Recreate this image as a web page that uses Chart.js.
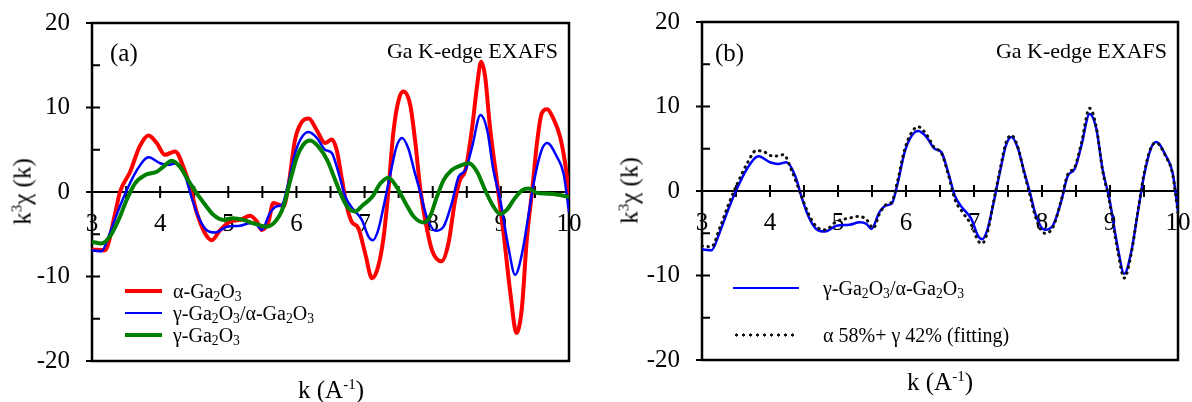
<!DOCTYPE html>
<html lang="en">
<head>
<meta charset="UTF-8">
<title>Ga K-edge EXAFS</title>
<script src="https://cdn.jsdelivr.net/npm/chart.js"></script>
<style>
  body { margin: 0; width: 1192px; height: 402px; background: #fff; overflow: hidden; position: relative;
         font-family: "Liberation Serif", "Times New Roman", serif; color: #000; }
  canvas { position: absolute; top: 0; }
  .t { position: absolute; white-space: nowrap; line-height: 1; }
  .sub { font-size: 0.68em; vertical-align: -0.25em; line-height: 0; }
  .sup { font-size: 0.6em; vertical-align: 0.6em; line-height: 0; }
  .ytitle { width: 140px; text-align: center; font-size: 25px; transform: rotate(-90deg); }
  .xtitle { width: 200px; text-align: center; font-size: 25px; }
  .lg { position: absolute; height: 0; }
  .solid { border-top-style: solid; }
  .dots { height: 4px; background: radial-gradient(circle, #111 1.4px, transparent 1.8px) 0 0 / 7px 4px repeat-x; }
</style>
</head>
<body>
<canvas id="chartA" width="596" height="402" style="left:0"></canvas>
<canvas id="chartB" width="596" height="402" style="left:596px"></canvas>

<!-- panel (a) text -->
<div class="t" style="left:110px; top:40px; font-size:25px">(a)</div>
<div class="t" style="right:634px; top:40px; font-size:22px">Ga K-edge EXAFS</div>
<div class="t ytitle" style="left:-48px; top:179px">k<span class="sup">3</span>χ (k)</div>
<div class="t xtitle" style="left:231px; top:377px">k (A<span class="sup">-1</span>)</div>
<div class="lg solid" style="left:125px; width:37px; top:289px; border-top-width:4px; border-color:#ff0000"></div>
<div class="lg solid" style="left:125px; width:37px; top:312px; border-top-width:2.5px; border-color:#0000ff"></div>
<div class="lg solid" style="left:125px; width:37px; top:333px; border-top-width:4px; border-color:#008000"></div>
<div class="t" style="left:173px; top:281px; font-size:20px">α-Ga<span class="sub">2</span>O<span class="sub">3</span></div>
<div class="t" style="left:173px; top:303px; font-size:20px">γ-Ga<span class="sub">2</span>O<span class="sub">3</span>/α-Ga<span class="sub">2</span>O<span class="sub">3</span></div>
<div class="t" style="left:173px; top:325px; font-size:20px">γ-Ga<span class="sub">2</span>O<span class="sub">3</span></div>

<!-- panel (b) text -->
<div class="t" style="left:715px; top:40px; font-size:25px">(b)</div>
<div class="t" style="right:25px; top:40px; font-size:22px">Ga K-edge EXAFS</div>
<div class="t ytitle" style="left:559px; top:178px">k<span class="sup">3</span>χ (k)</div>
<div class="t xtitle" style="left:840px; top:369px">k (A<span class="sup">-1</span>)</div>
<div class="lg solid" style="left:733px; width:66px; top:287px; border-top-width:2.5px; border-color:#0000ff"></div>
<div class="lg dots" style="left:733px; width:62px; top:333px"></div>
<div class="t" style="left:823px; top:278px; font-size:20px">γ-Ga<span class="sub">2</span>O<span class="sub">3</span>/α-Ga<span class="sub">2</span>O<span class="sub">3</span></div>
<div class="t" style="left:823px; top:325px; font-size:20px">α 58%+ γ 42% (fitting)</div>

<script>
// k values (A^-1) and k^3 chi(k)
const kAlpha = [3.0,3.19,3.34,3.41,3.56,3.70,3.83,3.95,4.07,4.22,4.34,4.44,4.54,4.66,4.76,4.88,5.03,5.17,5.32,5.42,5.49,5.59,5.66,5.74,5.81,5.88,5.98,6.08,6.18,6.30,6.42,6.52,6.59,6.67,6.74,6.81,6.91,7.01,7.11,7.20,7.28,7.35,7.42,7.50,7.57,7.67,7.74,7.82,7.89,7.99,8.13,8.23,8.33,8.40,8.48,8.58,8.65,8.71,8.77,8.84,8.94,9.04,9.14,9.23,9.31,9.38,9.46,9.53,9.60,9.68,9.77,9.87,9.95,10.0];
const alphaGa2O3 = [-6.8,-6.9,-2.5,0,2.4,5.4,6.7,5.8,4.4,4.8,3.0,0.6,-2.5,-4.9,-5.7,-4.5,-3.5,-3.3,-2.8,-3.5,-4.5,-3.5,-1.3,-1.5,-1.7,0.6,6.2,8.3,8.7,7.3,5.8,6.2,5.0,1.4,-1.7,-3.5,-4.3,-7.3,-10.2,-8.8,-5.3,0.2,6.9,10.9,11.9,10.3,6.2,0.2,-3.3,-6.9,-8.2,-6.1,-0.9,1.4,2.6,7.7,12.5,15.4,13.6,7.7,1.4,-4.9,-12.0,-16.7,-13.6,-5.7,0.2,5.8,9.3,9.8,8.7,6.5,3.0,-0.4];

const kMix = [3.0,3.14,3.26,3.39,3.51,3.66,3.83,4.0,4.12,4.24,4.37,4.46,4.56,4.68,4.81,4.98,5.17,5.32,5.42,5.49,5.61,5.71,5.79,5.88,5.98,6.08,6.18,6.30,6.42,6.52,6.62,6.72,6.84,6.96,7.06,7.12,7.20,7.28,7.38,7.47,7.55,7.64,7.74,7.82,7.91,8.04,8.16,8.28,8.38,8.48,8.58,8.70,8.80,8.89,8.99,9.11,9.21,9.31,9.41,9.50,9.60,9.68,9.82,9.92,10.0];
const mixGa2O3 = [-6.9,-7.0,-4.9,-2.1,0.2,2.6,4.1,3.4,3.2,3.4,1.8,-0.6,-2.9,-4.5,-4.8,-4.1,-4.0,-3.7,-3.9,-4.5,-2.5,-1.7,-1.5,1.0,4.6,6.5,7.1,6.4,5.0,4.6,2.2,-0.6,-2.1,-3.3,-5.3,-5.7,-4.5,-1.7,2.2,5.4,6.4,5.2,2.2,-0.1,-2.9,-4.6,-4.1,-1.3,1.8,2.6,5.4,9.1,7.3,2.6,-0.9,-6.5,-9.8,-7.3,-2.5,1.8,5.0,5.8,4.2,2.2,-2.4];

const kGamma = [3.0,3.14,3.26,3.39,3.51,3.63,3.78,3.95,4.05,4.17,4.29,4.41,4.54,4.66,4.78,4.93,5.07,5.22,5.37,5.56,5.69,5.81,5.91,6.01,6.10,6.20,6.32,6.45,6.57,6.67,6.76,6.86,6.98,7.11,7.23,7.35,7.47,7.60,7.72,7.87,7.96,8.06,8.16,8.28,8.40,8.53,8.65,8.77,8.89,8.99,9.09,9.19,9.31,9.41,9.53,9.68,9.82,10.0];
const gammaGa2O3 = [-5.9,-6.1,-5.3,-3.3,-0.9,1.0,2.0,2.4,3.0,3.7,3.0,1.4,-0.2,-1.5,-2.7,-3.3,-3.1,-3.3,-3.7,-4.1,-3.5,-1.7,1.4,4.2,5.6,6.1,5.4,3.8,1.4,-0.6,-1.9,-2.3,-1.5,-0.6,1.0,1.7,0.6,-1.3,-2.9,-3.6,-2.9,-0.6,1.4,2.6,3.1,3.4,2.4,0.2,-1.7,-2.6,-2.1,-0.9,0.2,0.4,-0.1,-0.2,-0.3,-0.6];

const kFit = [3.0,3.14,3.26,3.39,3.51,3.66,3.80,3.92,4.05,4.20,4.32,4.44,4.56,4.68,4.81,4.98,5.17,5.32,5.42,5.52,5.61,5.71,5.79,5.88,5.98,6.08,6.18,6.30,6.42,6.52,6.62,6.72,6.84,6.96,7.06,7.12,7.20,7.28,7.38,7.47,7.55,7.64,7.74,7.82,7.91,8.04,8.16,8.28,8.38,8.48,8.58,8.70,8.80,8.89,8.99,9.11,9.21,9.31,9.41,9.50,9.60,9.68,9.82,9.92,10.0];
const fit58_42 = [-6.5,-6.6,-4.4,-1.6,0.7,3.2,4.8,4.6,4.1,4.3,2.4,-0.1,-2.6,-4.2,-4.6,-3.6,-3.2,-3.0,-3.4,-4.4,-2.7,-1.6,-1.3,1.3,4.9,6.9,7.6,6.7,5.1,4.5,2.0,-1.0,-2.6,-4.0,-5.9,-6.2,-4.8,-1.6,2.4,5.7,6.6,5.3,2.1,-0.4,-3.2,-5.0,-4.3,-1.2,2.0,2.8,5.7,9.8,7.5,2.5,-1.2,-6.9,-10.3,-7.5,-2.4,2.0,5.1,5.7,4.1,2.0,-2.6];

const xTicks = [3, 4, 5, 6, 7, 8, 9, 10];
const yTicks = [-20, -10, 0, 10, 20];

const pts = (ks, vs) => ks.map((k, i) => ({ x: k, y: vs[i] }));

Chart.defaults.font.family = '"Liberation Serif", "Times New Roman", serif';
Chart.defaults.color = '#000';

// box, crossing ticks on the zero line, inner y ticks
const frame = {
  id: 'frame',
  beforeDatasetsDraw(chart) {
    const { ctx, chartArea: a, scales: { x, y } } = chart;
    ctx.save();
    ctx.strokeStyle = '#000';
    ctx.lineWidth = 2.5;
    ctx.strokeRect(a.left, a.top, a.right - a.left, a.bottom - a.top);
    ctx.lineWidth = 2;
    ctx.beginPath();
    const y0 = y.getPixelForValue(0);
    for (let k = 3.5; k < 10; k += 0.5) {
      const px = x.getPixelForValue(k);
      ctx.moveTo(px, y0 - 6);
      ctx.lineTo(px, y0 + 6);
    }
    for (let v = -20; v <= 20; v += 5) {
      const py = y.getPixelForValue(v);
      const major = v % 10 === 0;
      ctx.moveTo(a.left - (major ? 6 : 0), py);
      ctx.lineTo(a.left + 8, py);
    }
    ctx.stroke();
    ctx.restore();
  }
};

function makeOptions(yWidth, pad) {
  return {
    responsive: false,
    animation: false,
    layout: { padding: pad },
    plugins: { legend: { display: false }, tooltip: { enabled: false } },
    elements: { point: { radius: 0 }, line: { cubicInterpolationMode: 'monotone' } },
    scales: {
      x: {
        type: 'linear', position: { y: 0 }, min: 3, max: 10,
        grid: { display: false, drawTicks: false },
        border: { display: true, color: '#000', width: 2 },
        afterBuildTicks: s => { s.ticks = xTicks.map(v => ({ value: v })); },
        afterFit: s => { s.paddingLeft = 0; s.paddingRight = 0; },
        ticks: { font: { size: 25 }, padding: 17, maxRotation: 0, autoSkip: false }
      },
      y: {
        type: 'linear', position: 'left', min: -20, max: 20,
        grid: { display: false, drawTicks: false },
        border: { display: false },
        afterBuildTicks: s => { s.ticks = yTicks.map(v => ({ value: v })); },
        afterFit: s => { s.width = yWidth; s.paddingTop = 0; s.paddingBottom = 0; },
        ticks: { font: { size: 25 }, padding: 22 }
      }
    }
  };
}

new Chart(document.getElementById('chartA'), {
  type: 'line',
  data: {
    datasets: [
      { label: 'γ-Ga2O3', data: pts(kGamma, gammaGa2O3), borderColor: '#008000', borderWidth: 4, order: 0 },
      { label: 'γ-Ga2O3/α-Ga2O3', data: pts(kMix, mixGa2O3), borderColor: '#0000ff', borderWidth: 2.5, order: 1 },
      { label: 'α-Ga2O3', data: pts(kAlpha, alphaGa2O3), borderColor: '#ff0000', borderWidth: 4, order: 2 }
    ]
  },
  options: makeOptions(92, { left: 0, right: 27, top: 23, bottom: 41 }),
  plugins: [frame]
});

new Chart(document.getElementById('chartB'), {
  type: 'line',
  data: {
    datasets: [
      { label: 'α 58%+ γ 42% (fitting)', data: pts(kFit, fit58_42), borderColor: '#111', borderWidth: 3,
        borderDash: [0.5, 5.5], borderCapStyle: 'round', order: 0 },
      { label: 'γ-Ga2O3/α-Ga2O3', data: pts(kMix, mixGa2O3), borderColor: '#0000ff', borderWidth: 2.5, order: 1 }
    ]
  },
  options: makeOptions(106, { left: 0, right: 14, top: 22, bottom: 42 }),
  plugins: [frame]
});
</script>
</body>
</html>
